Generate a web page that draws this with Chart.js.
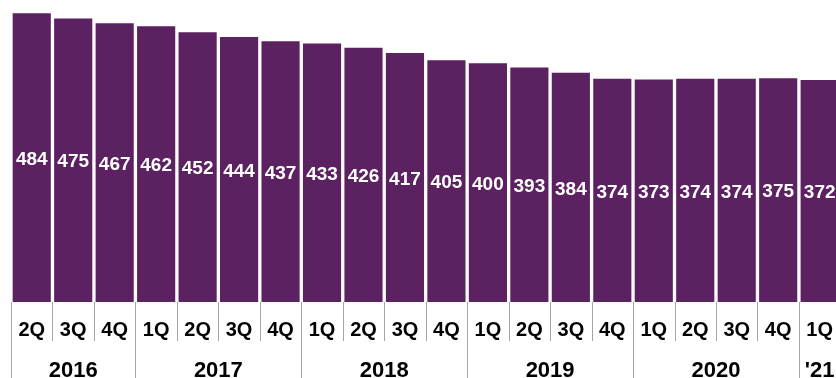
<!DOCTYPE html>
<html>
<head>
<meta charset="utf-8">
<script src="https://cdn.jsdelivr.net/npm/chart.js@4/dist/chart.umd.min.js"></script>
<style>
  html, body { margin: 0; padding: 0; background: #fff; overflow: hidden; }
  #wrap { width: 850px; height: 378px; }
</style>
</head>
<body>
<div id="wrap"><canvas id="grafico" width="850" height="378"></canvas></div>
<script>
const quarters = ['2Q', '3Q', '4Q', '1Q', '2Q', '3Q', '4Q', '1Q', '2Q', '3Q', '4Q', '1Q', '2Q', '3Q', '4Q', '1Q', '2Q', '3Q', '4Q', '1Q'];
const valores = [484, 475, 467, 462, 452, 444, 437, 433, 426, 417, 405, 400, 393, 384, 374, 373, 374, 374, 375, 372];
const anos = ['2016', '2017', '2018', '2019', '2020', "'21"];
const trimestresPorAno = [3, 4, 4, 4, 4, 1];

const corBarra = '#5c2160';
const corLinha = '#a6a6a6';

// rotulos brancos no meio de cada barra
const rotulosBarras = {
  id: 'rotulosBarras',
  afterDatasetsDraw(chart) {
    const ctx = chart.ctx;
    const meta = chart.getDatasetMeta(0);
    ctx.save();
    ctx.fillStyle = '#ffffff';
    ctx.font = 'bold 19px "Liberation Sans", Arial, sans-serif';
    ctx.textAlign = 'center';
    ctx.textBaseline = 'middle';
    meta.data.forEach((barra, i) => {
      ctx.fillText(String(valores[i]), barra.x, (barra.y + barra.base) / 2 + 2);
    });
    ctx.restore();
  }
};

// linhas separadoras e anos embaixo do eixo
const eixoAnos = {
  id: 'eixoAnos',
  afterDraw(chart) {
    const ctx = chart.ctx;
    const x = chart.scales.x;
    const largura = x.width / quarters.length;
    const base = chart.chartArea.bottom;
    const fim = chart.height;

    const limitesAno = [0];
    trimestresPorAno.forEach(n => limitesAno.push(limitesAno[limitesAno.length - 1] + n));

    ctx.save();
    ctx.strokeStyle = corLinha;
    ctx.lineWidth = 1;
    for (let i = 0; i <= quarters.length; i++) {
      const px = Math.round(x.left + i * largura) + 0.5;
      const ehAno = limitesAno.includes(i);
      ctx.beginPath();
      ctx.moveTo(px, base);
      ctx.lineTo(px, ehAno ? fim : base + 39);
      ctx.stroke();
    }

    ctx.fillStyle = '#000000';
    ctx.font = 'bold 22px "Liberation Sans", Arial, sans-serif';
    ctx.textAlign = 'center';
    ctx.textBaseline = 'middle';
    anos.forEach((ano, k) => {
      const ini = limitesAno[k];
      const meio = x.left + (ini + trimestresPorAno[k] / 2) * largura;
      ctx.fillText(ano, meio, base + 69);
    });
    ctx.restore();
  }
};

const grafico = new Chart(document.getElementById('grafico'), {
  type: 'bar',
  data: {
    labels: quarters,
    datasets: [{
      label: 'Valor',
      data: valores,
      backgroundColor: corBarra,
      borderWidth: 0,
      barPercentage: 0.92,
      categoryPercentage: 1
    }]
  },
  options: {
    responsive: false,
    devicePixelRatio: 1,
    animation: false,
    layout: { padding: { left: 11, right: 9.6, top: 0, bottom: 0 } },
    plugins: {
      legend: { display: false },
      tooltip: { enabled: false }
    },
    scales: {
      x: {
        offset: true,
        grid: { display: false, drawTicks: false },
        border: { display: false },
        ticks: {
          color: '#000000',
          font: { family: '"Liberation Sans", Arial, sans-serif', size: 20, weight: 'bold' },
          padding: 16,
          maxRotation: 0,
          autoSkip: false
        },
        afterFit(scale) { scale.height = 76; }
      },
      y: {
        display: false,
        min: 0,
        max: 506
      }
    }
  },
  plugins: [rotulosBarras, eixoAnos]
});
</script>
</body>
</html>
